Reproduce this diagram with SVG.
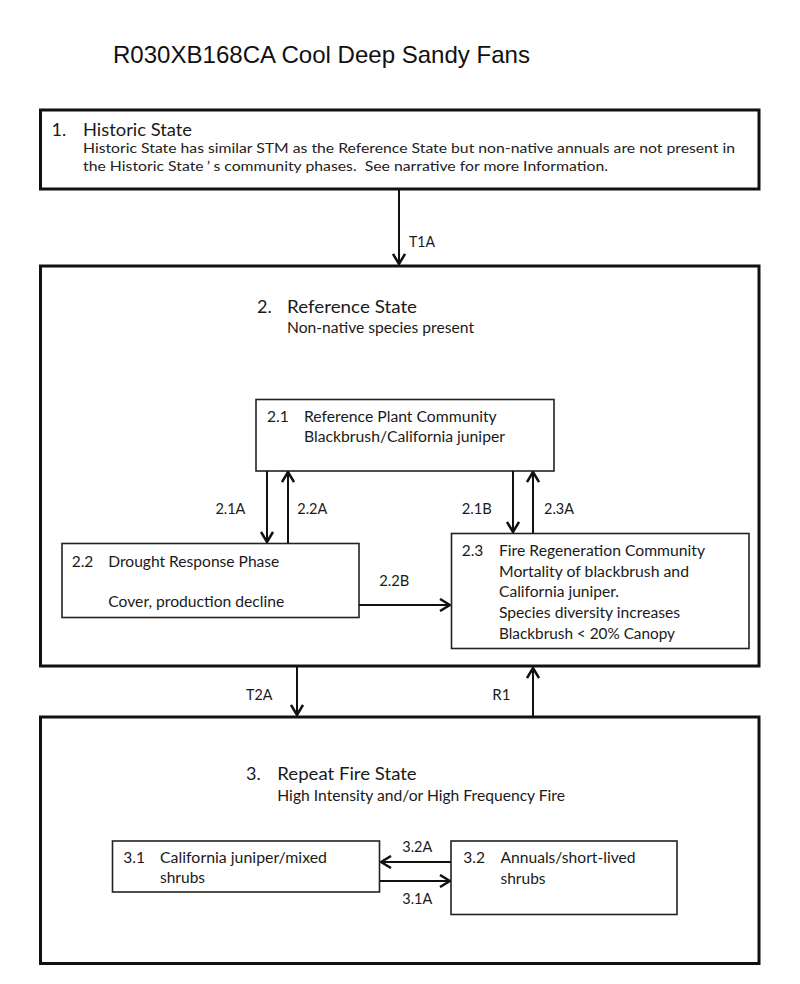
<svg xmlns="http://www.w3.org/2000/svg" width="800" height="984" viewBox="0 0 800 984">
<style>
  .state { fill: #fff; stroke: #111; stroke-width: 3; }
  .phase { fill: #fff; stroke: #222; stroke-width: 1.6; }
  .conn { stroke: #111; stroke-width: 2; fill: none; }
  text { font-family: Lato, "Liberation Sans", sans-serif; fill: #1a1a1a; }
  .title { font-family: "Liberation Sans", Arial, sans-serif; font-size: 24px; fill: #111; }
  .h { font-size: 18px; }
  .t { font-size: 15.5px; }
  .d { font-size: 13.5px; fill: #222; }
  .lbl { font-size: 15px; }
</style>
<defs>
  <marker id="ah" viewBox="0 0 12 14" refX="11" refY="7" markerWidth="12" markerHeight="14" markerUnits="userSpaceOnUse" orient="auto">
    <path d="M1,1 L11,7 L1,13" fill="none" stroke="#111" stroke-width="2.5"/>
  </marker>
</defs>
<rect width="800" height="984" fill="#fff"/>

<text class="title" x="113" y="63" textLength="417" lengthAdjust="spacingAndGlyphs">R030XB168CA Cool Deep Sandy Fans</text>

<g id="state1">
  <rect class="state" x="40.5" y="110" width="718.5" height="79"/>
  <text class="h" x="51.5" y="136">1.</text>
  <text class="h" x="83" y="136" textLength="109" lengthAdjust="spacingAndGlyphs">Historic State</text>
  <text class="d" x="83" y="152.5" textLength="652" lengthAdjust="spacingAndGlyphs">Historic State has similar STM as the Reference State but non-native annuals are not present in</text>
  <text class="d" x="83" y="171" textLength="525" lengthAdjust="spacingAndGlyphs">the Historic State<tspan dx="3">’</tspan><tspan dx="3">s community phases. &#160;See narrative for more Information.</tspan></text>
</g>

<g id="state2">
  <rect class="state" x="40.5" y="266" width="718.5" height="400"/>
  <text class="h" x="257" y="312.7">2.</text>
  <text class="h" x="287" y="312.7" textLength="130" lengthAdjust="spacingAndGlyphs">Reference State</text>
  <text class="t" x="287" y="332.7" textLength="187" lengthAdjust="spacingAndGlyphs">Non-native species present</text>
</g>

<g id="phase21">
  <rect class="phase" x="256" y="399.5" width="298" height="71.5"/>
  <text class="t" x="267" y="422.3">2.1</text>
  <text class="t" x="304" y="422.3" textLength="192.7" lengthAdjust="spacingAndGlyphs">Reference Plant Community</text>
  <text class="t" x="304" y="442.3" textLength="201" lengthAdjust="spacingAndGlyphs">Blackbrush/California juniper</text>
</g>

<g id="phase22">
  <rect class="phase" x="62" y="543.5" width="297" height="74"/>
  <text class="t" x="71.7" y="567.3">2.2</text>
  <text class="t" x="108.3" y="567.3" textLength="171" lengthAdjust="spacingAndGlyphs">Drought Response Phase</text>
  <text class="t" x="108.3" y="606.7" textLength="176" lengthAdjust="spacingAndGlyphs">Cover, production decline</text>
</g>

<g id="phase23">
  <rect class="phase" x="451.5" y="533.5" width="297.5" height="115"/>
  <text class="t" x="461.7" y="556">2.3</text>
  <text class="t" x="499" y="556" textLength="206" lengthAdjust="spacingAndGlyphs">Fire Regeneration Community</text>
  <text class="t" x="499" y="576.7" textLength="190" lengthAdjust="spacingAndGlyphs">Mortality of blackbrush and</text>
  <text class="t" x="499" y="597.3" textLength="120" lengthAdjust="spacingAndGlyphs">California juniper.</text>
  <text class="t" x="499" y="618.3" textLength="181" lengthAdjust="spacingAndGlyphs">Species diversity increases</text>
  <text class="t" x="499" y="639" textLength="176" lengthAdjust="spacingAndGlyphs">Blackbrush &lt; 20% Canopy</text>
</g>

<g id="state3">
  <rect class="state" x="40.5" y="717" width="718.5" height="246.5"/>
  <text class="h" x="246" y="780">3.</text>
  <text class="h" x="277.3" y="780" textLength="139.4" lengthAdjust="spacingAndGlyphs">Repeat Fire State</text>
  <text class="t" x="277.3" y="801" textLength="287.7" lengthAdjust="spacingAndGlyphs">High Intensity and/or High Frequency Fire</text>
</g>

<g id="phase31">
  <rect class="phase" x="112.5" y="841" width="267" height="51"/>
  <text class="t" x="123.3" y="863.3">3.1</text>
  <text class="t" x="160" y="863.3" textLength="167" lengthAdjust="spacingAndGlyphs">California juniper/mixed</text>
  <text class="t" x="160" y="883.3">shrubs</text>
</g>

<g id="phase32">
  <rect class="phase" x="451" y="841" width="226" height="73.5"/>
  <text class="t" x="463.3" y="863.3">3.2</text>
  <text class="t" x="500.5" y="863.3" textLength="135" lengthAdjust="spacingAndGlyphs">Annuals/short-lived</text>
  <text class="t" x="500.5" y="884">shrubs</text>
</g>

<g id="connectors">
  <line class="conn" x1="399" y1="190" x2="399" y2="264" marker-end="url(#ah)"/>
  <line class="conn" x1="267" y1="471" x2="267" y2="542" marker-end="url(#ah)"/>
  <line class="conn" x1="288" y1="543" x2="288" y2="472" marker-end="url(#ah)"/>
  <line class="conn" x1="513" y1="471" x2="513" y2="532" marker-end="url(#ah)"/>
  <line class="conn" x1="533" y1="533" x2="533" y2="472" marker-end="url(#ah)"/>
  <line class="conn" x1="359" y1="605" x2="450" y2="605" marker-end="url(#ah)"/>
  <line class="conn" x1="297" y1="667" x2="297" y2="715" marker-end="url(#ah)"/>
  <line class="conn" x1="533" y1="716" x2="533" y2="668" marker-end="url(#ah)"/>
  <line class="conn" x1="451" y1="862" x2="381" y2="862" marker-end="url(#ah)"/>
  <line class="conn" x1="380" y1="881" x2="450" y2="881" marker-end="url(#ah)"/>
  <text class="lbl" x="409" y="247" textLength="26" lengthAdjust="spacingAndGlyphs">T1A</text>
  <text class="lbl" x="215.4" y="514.3" textLength="30" lengthAdjust="spacingAndGlyphs">2.1A</text>
  <text class="lbl" x="297.3" y="514.3" textLength="30" lengthAdjust="spacingAndGlyphs">2.2A</text>
  <text class="lbl" x="461.7" y="514.3" textLength="30" lengthAdjust="spacingAndGlyphs">2.1B</text>
  <text class="lbl" x="544" y="514.3" textLength="30" lengthAdjust="spacingAndGlyphs">2.3A</text>
  <text class="lbl" x="379.3" y="586" textLength="30" lengthAdjust="spacingAndGlyphs">2.2B</text>
  <text class="lbl" x="246" y="700" textLength="26.3" lengthAdjust="spacingAndGlyphs">T2A</text>
  <text class="lbl" x="492.3" y="700">R1</text>
  <text class="lbl" x="402.3" y="852.3" textLength="30" lengthAdjust="spacingAndGlyphs">3.2A</text>
  <text class="lbl" x="402.3" y="904.3" textLength="30" lengthAdjust="spacingAndGlyphs">3.1A</text>
</g>
</svg>
